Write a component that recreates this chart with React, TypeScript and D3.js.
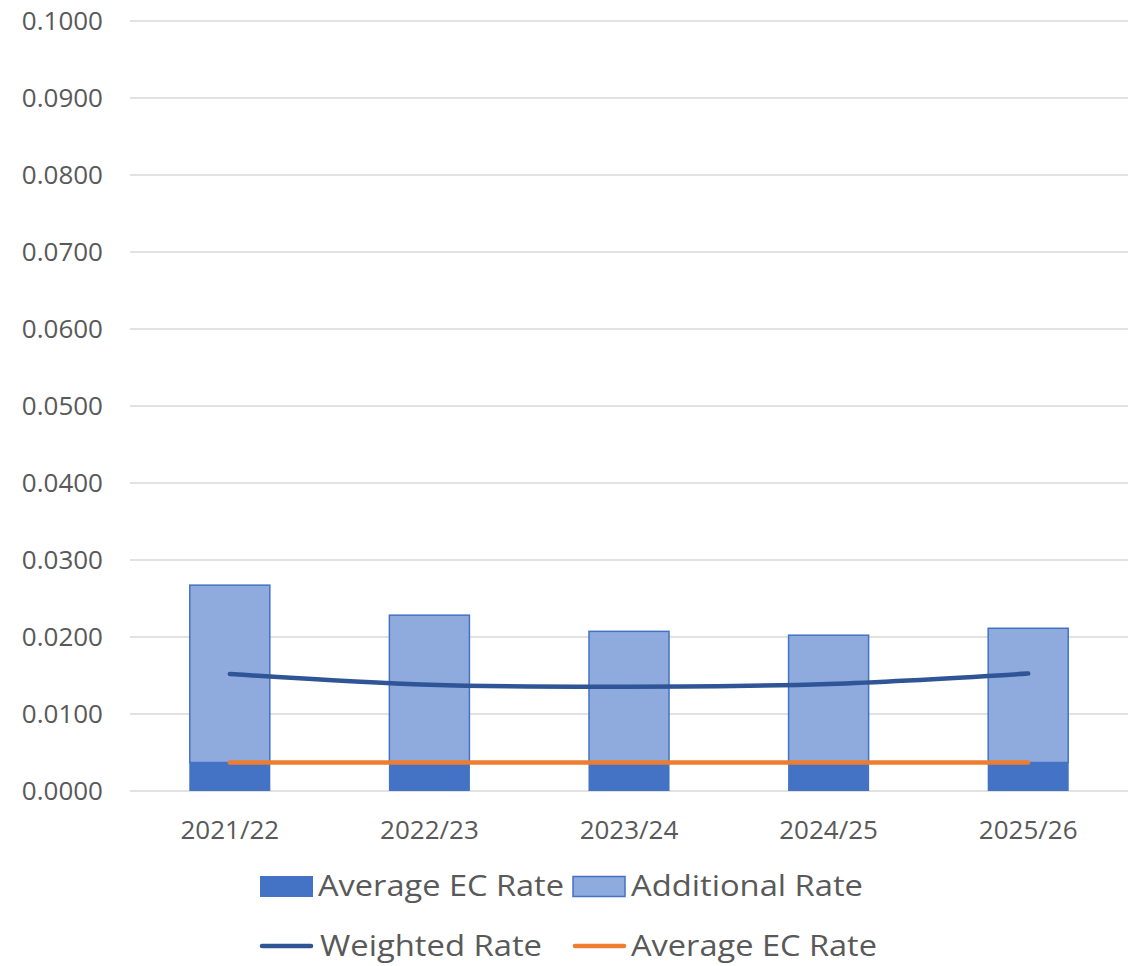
import React from "react";
import * as d3 from "d3";

const categories = ["2021/22", "2022/23", "2023/24", "2024/25", "2025/26"];
const averageEC = [0.0037, 0.0037, 0.0037, 0.0037, 0.0037];
const totalRate = [0.0268, 0.0229, 0.0208, 0.0203, 0.0212];
const additional = totalRate.map((t, i) => t - averageEC[i]);
const weighted = [0.0152, 0.0138, 0.01355, 0.0139, 0.01525];
const yTicks = [0, 0.01, 0.02, 0.03, 0.04, 0.05, 0.06, 0.07, 0.08, 0.09, 0.1];

const W = 1140;
const H = 966;
const FONT = "'Open Sans', sans-serif";
const TEXT = "#595959";

export default function App() {
  const x = d3.scaleBand<string>().domain(categories).range([130, 1128]).paddingInner(0.594).paddingOuter(0.297);
  const y = d3.scaleLinear().domain([0, 0.1]).range([791, 21]);
  const cx = (c: string) => (x(c) as number) + x.bandwidth() / 2;

  const stack = d3.stack<number>().keys(["avg", "add"]).value((i, k) => (k === "avg" ? averageEC[i] : additional[i]));
  const series = stack(categories.map((_, i) => i));

  const weightedLine = d3
    .line<number>()
    .x((_, i) => cx(categories[i]))
    .y((d) => y(d))
    .curve(d3.curveCatmullRom.alpha(0));
  const ecLine = d3
    .line<number>()
    .x((_, i) => cx(categories[i]))
    .y((d) => y(d));

  return (
    <svg width={W} height={H} style={{ position: "absolute", left: 0, top: 0, background: "#fff" }} fontFamily={FONT}>
      {yTicks.map((t) => (
        <g key={t}>
          <line x1={130} x2={1128} y1={y(t)} y2={y(t)} stroke="#D9D9D9" strokeWidth={1.5} />
          <text x={103} y={y(t) + 9} textAnchor="end" fontSize={26} fill={TEXT}>
            {t.toFixed(4)}
          </text>
        </g>
      ))}
      {series[0].map((d, i) => (
        <rect
          key={"a" + i}
          x={x(categories[i])}
          width={x.bandwidth()}
          y={y(d[1])}
          height={y(d[0]) - y(d[1])}
          fill="#4472C4"
        />
      ))}
      {series[1].map((d, i) => (
        <rect
          key={"b" + i}
          x={(x(categories[i]) as number) + 0.5}
          width={x.bandwidth() - 1}
          y={y(d[1]) + 0.5}
          height={y(d[0]) - y(d[1]) - 0.5}
          fill="#8FAADC"
          stroke="#4472C4"
          strokeWidth={1.5}
        />
      ))}
      <path d={weightedLine(weighted) || ""} fill="none" stroke="#2F5597" strokeWidth={4.5} strokeLinecap="round" strokeLinejoin="round" />
      <path d={ecLine(averageEC) || ""} fill="none" stroke="#ED7D31" strokeWidth={4.5} strokeLinecap="round" />
      {categories.map((c) => (
        <text key={c} x={cx(c)} y={839} textAnchor="middle" fontSize={26} fill={TEXT}>
          {c}
        </text>
      ))}
      <g>
        <rect x={260} y={876} width={53} height={21} fill="#4472C4" />
        <text x={318} y={896} fontSize={30} fill={TEXT} textLength={246} lengthAdjust="spacingAndGlyphs">Average EC Rate</text>
        <rect x={573} y={876.5} width={52} height={20} fill="#8FAADC" stroke="#4472C4" strokeWidth={1.5} />
        <text x={631} y={896} fontSize={30} fill={TEXT} textLength={232} lengthAdjust="spacingAndGlyphs">Additional Rate</text>
        <line x1={262} x2={311} y1={946} y2={946} stroke="#2F5597" strokeWidth={4.5} strokeLinecap="round" />
        <text x={320} y={956} fontSize={30} fill={TEXT} textLength={222} lengthAdjust="spacingAndGlyphs">Weighted Rate</text>
        <line x1={575} x2={624} y1={946} y2={946} stroke="#ED7D31" strokeWidth={4.5} strokeLinecap="round" />
        <text x={631} y={956} fontSize={30} fill={TEXT} textLength={246} lengthAdjust="spacingAndGlyphs">Average EC Rate</text>
      </g>
    </svg>
  );
}
